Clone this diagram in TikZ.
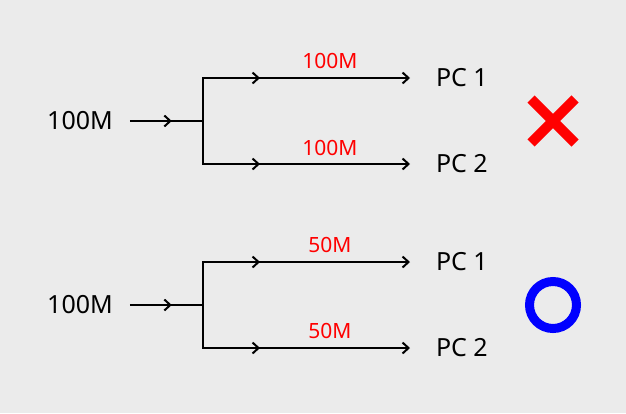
\documentclass[tikz,border=0pt]{standalone}
\usepackage{fontspec}
\setmainfont{Noto Sans}
\usetikzlibrary{arrows.meta,decorations.markings}
\definecolor{clBack}{HTML}{EBEBEB}
\definecolor{clBad}{HTML}{FF0000}
\definecolor{clGood}{HTML}{0000FF}
\tikzset{
  rate/.style={font=\fontsize{25}{28}\selectfont, inner sep=0pt, outer xsep=17pt},
  pc/.style={font=\fontsize{25}{28}\selectfont, inner sep=0pt, outer xsep=26pt, anchor=west},
  share/.style={font=\fontsize{21}{24}\selectfont, text=clBad, inner sep=0pt},
  feed/.style={line width=2pt},
  wire/.style={feed, -{Straight Barb[length=6pt,width=11pt]}},
  midtip/.style={postaction={decorate}, decoration={markings,
    mark=at position #1 with {\arrow{Straight Barb[length=6pt,width=11pt]}}}},
}

\begin{document}
\begin{tikzpicture}[x=1pt, y=-1pt]
  \fill[clBack] (0,0) rectangle (626,413);
  \useasboundingbox (0,0) rectangle (626,413);

  % shared 100M split evenly is not enforced (top)
  \node[rate] (src1) at (80,121) {100M};
  \coordinate (jct1) at (203,121);
  \node[pc] (pc11) at (410,78) {PC 1};
  \node[pc] (pc12) at (410,164) {PC 2};
  \node[share] (rate11) at (330,60.5) {100M};
  \node[share] (rate12) at (330,147.5) {100M};

  \draw[feed, midtip=42pt] (src1.east) -- (jct1);
  \draw[wire, midtip=100pt] (jct1) |- (pc11.west);
  \draw[wire, midtip=100pt] (jct1) |- (pc12.west);
  \draw[clBad, line width=10pt] (531,99) -- (575,143);
  \draw[clBad, line width=10pt] (575,99) -- (531,143);

  % 100M split into halves (bottom)
  \node[rate] (src2) at (80,305) {100M};
  \coordinate (jct2) at (203,305);
  \node[pc] (pc21) at (410,262) {PC 1};
  \node[pc] (pc22) at (410,348) {PC 2};
  \node[share] (rate21) at (330,244.5) {50M};
  \node[share] (rate22) at (330,331) {50M};

  \draw[feed, midtip=42pt] (src2.east) -- (jct2);
  \draw[wire, midtip=100pt] (jct2) |- (pc21.west);
  \draw[wire, midtip=100pt] (jct2) |- (pc22.west);
  \draw[clGood, line width=9pt] (553,305) circle (23.5pt);
\end{tikzpicture}
\end{document}
